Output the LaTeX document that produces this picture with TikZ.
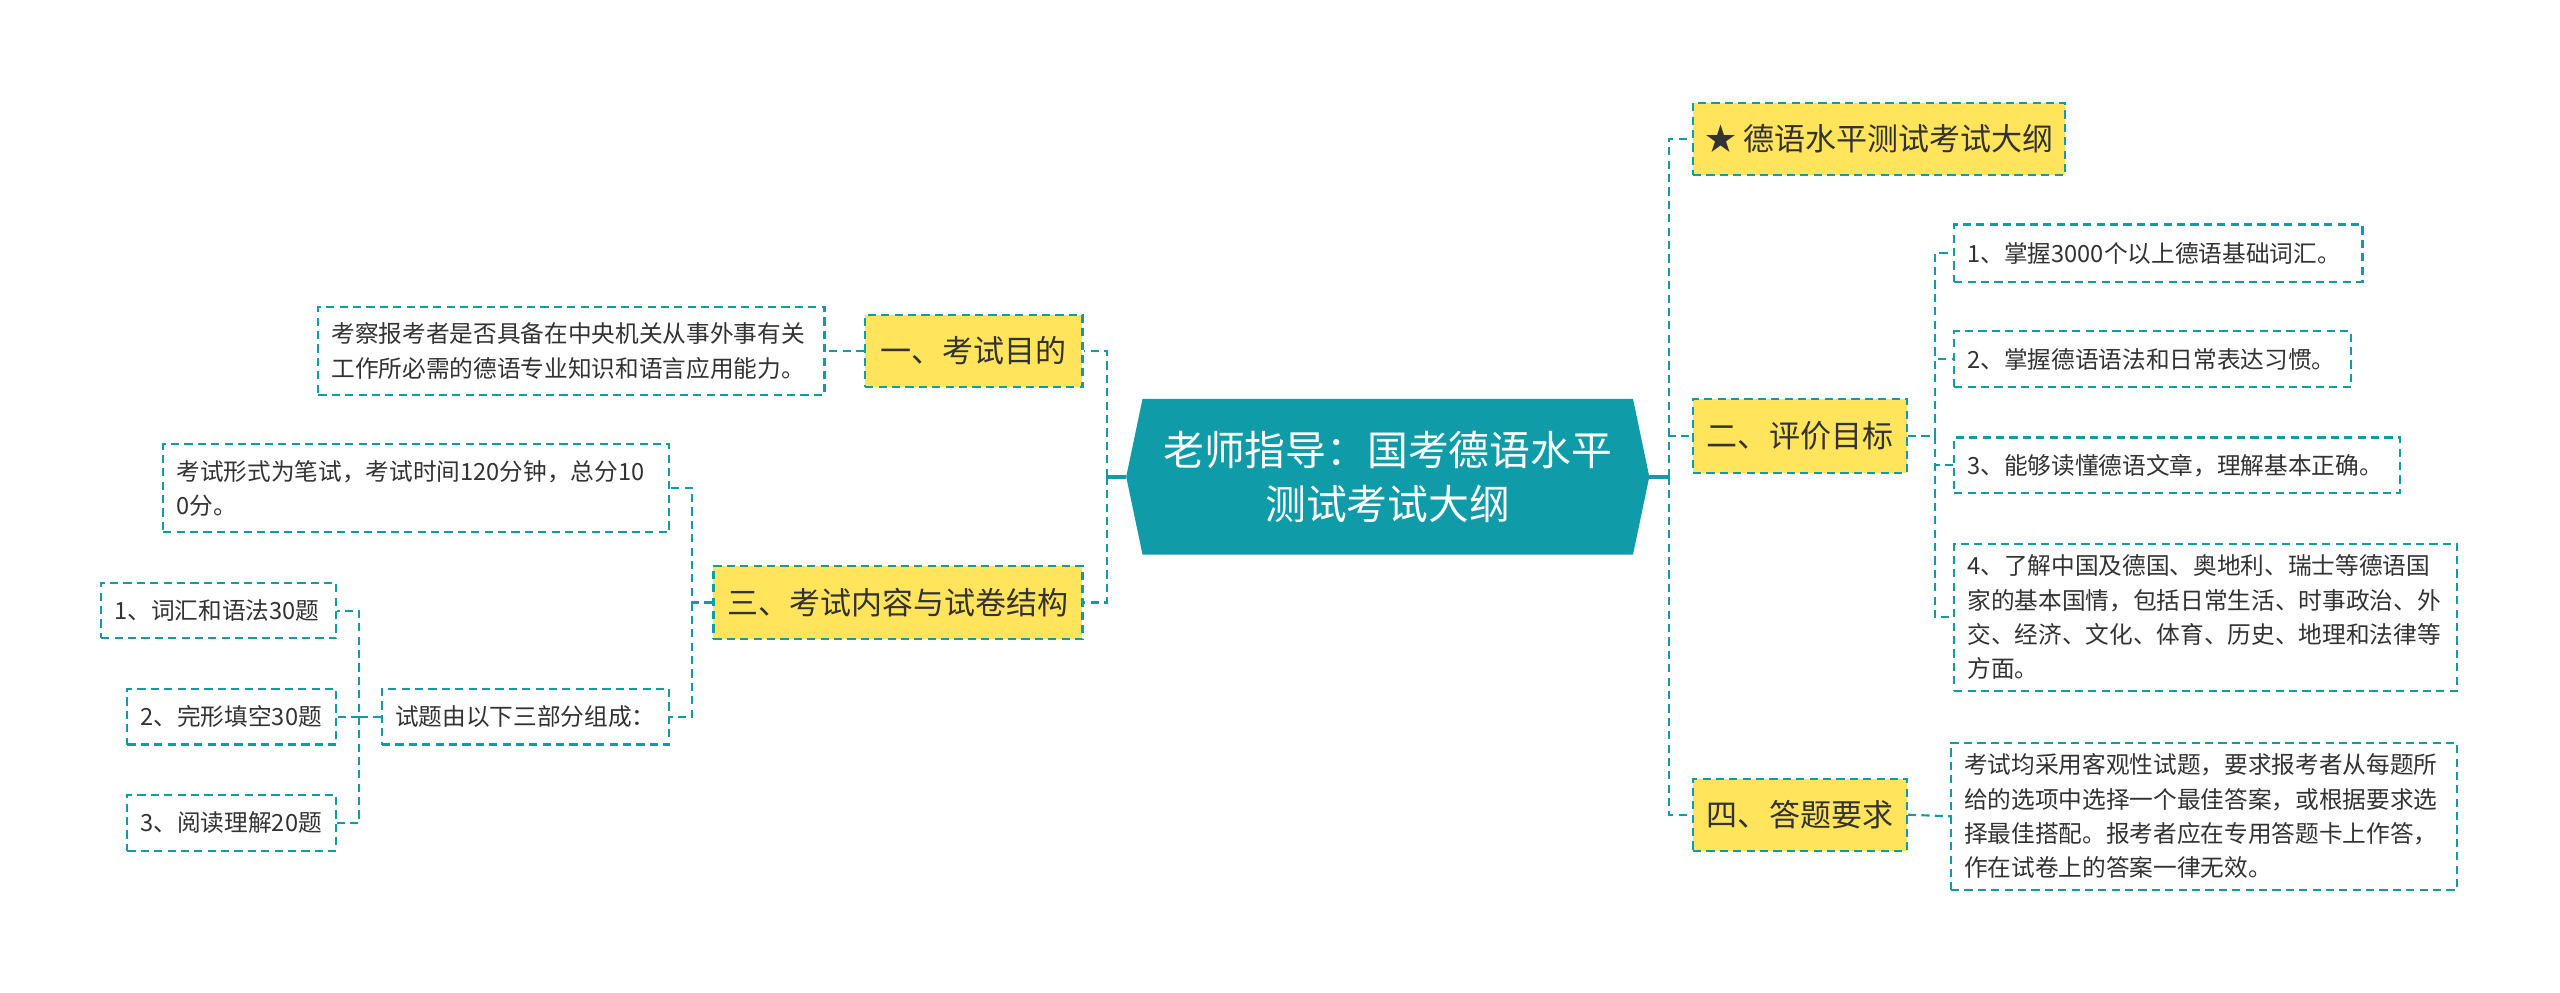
\documentclass[tikz,border=0pt]{standalone}
\usepackage{fontspec}
\newfontfamily\cjk{Noto Sans CJK SC}
\usetikzlibrary{backgrounds}
\definecolor{teal1}{HTML}{0F9BA8}
\definecolor{ylw}{HTML}{FFE45C}
\definecolor{txt}{HTML}{333333}
\begin{document}
\begin{tikzpicture}[x=1pt,y=-1pt,
  every node/.style={font=\cjk},
  dline/.style={draw=teal1, line width=1.3pt, dash pattern=on 5pt off 3.2pt},
  rootline/.style={draw=teal1, line width=2.4pt},
  topic/.style={fill=ylw, dline, text=txt, font=\cjk\fontsize{19}{23}\selectfont, inner sep=0pt, align=center},
  leaf/.style={fill=white, dline, text=txt, font=\cjk\fontsize{14.5}{21}\selectfont, inner xsep=8pt, inner ysep=0pt, align=left},
]
\useasboundingbox (0,0) rectangle (1568,608);
% root
\node[text=white, font=\cjk\fontsize{25}{33}\selectfont, align=center, minimum width=320pt, minimum height=95pt, inner sep=0pt] (root) at (850,292) {老师指导：国考德语水平\\测试考试大纲};
\begin{scope}[on background layer]
\fill[white] (0,0) rectangle (1568,608);
\fill[teal1] (root.west) -- ([xshift=10pt]root.north west) -- ([xshift=-10pt]root.north east) -- (root.east) -- ([xshift=-10pt]root.south east) -- ([xshift=10pt]root.south west) -- cycle;
\end{scope}
% left topics
\node[topic, minimum width=133pt, minimum height=44pt] (n1) at (596.5,215) {一、考试目的};
\node[topic, minimum width=226pt, minimum height=45pt] (n3) at (550,369) {三、考试内容与试卷结构};
\node[leaf, text width=294pt, minimum height=54pt] (a1) at (350,215) {考察报考者是否具备在中央机关从事外事有关\\工作所必需的德语专业知识和语言应用能力。};
\node[leaf, text width=294pt, minimum height=54pt] (b1) at (255,299) {考试形式为笔试，考试时间120分钟，总分10\\0分。};
\node[leaf, text width=160pt, minimum height=34pt] (b2) at (322,439) {试题由以下三部分组成：};
\node[leaf, text width=128pt, minimum height=34pt] (c1) at (134,374) {1、词汇和语法30题};
\node[leaf, text width=112pt, minimum height=34pt] (c2) at (142,439) {2、完形填空30题};
\node[leaf, text width=112pt, minimum height=34pt] (c3) at (142,504) {3、阅读理解20题};
% right topics
\node[topic, minimum width=228pt, minimum height=44pt] (r0) at (1151,85) {★ 德语水平测试考试大纲};
\node[topic, minimum width=131pt, minimum height=45pt] (r2) at (1102.5,267) {二、评价目标};
\node[topic, minimum width=131pt, minimum height=44pt] (r4) at (1102.5,499) {四、答题要求};
\node[leaf, text width=234pt, minimum height=35pt] (d1) at (1322,155) {1、掌握3000个以上德语基础词汇。};
\node[leaf, text width=227pt, minimum height=34pt] (d2) at (1318.5,220) {2、掌握德语语法和日常表达习惯。};
\node[leaf, text width=257pt, minimum height=34pt] (d3) at (1333.5,285) {3、能够读懂德语文章，理解基本正确。};
\node[leaf, text width=292pt, minimum height=90pt] (d4) at (1351,378) {4、了解中国及德国、奥地利、瑞士等德语国\\家的基本国情，包括日常生活、时事政治、外\\交、经济、文化、体育、历史、地理和法律等\\方面。};
\node[leaf, text width=294pt, minimum height=90pt] (e1) at (1350,500) {考试均采用客观性试题，要求报考者从每题所\\给的选项中选择一个最佳答案，或根据要求选\\择最佳搭配。报考者应在专用答题卡上作答，\\作在试卷上的答案一律无效。};
% connectors
\coordinate (jl) at (678,292);
\coordinate (jr) at (1022,292);
\draw[rootline] (root.west) -- (jl);
\draw[rootline] (root.east) -- (jr);
\draw[dline] (jl) |- (n1.east);
\draw[dline] (jl) |- (n3.east);
\draw[dline] (jr) |- (r0.west);
\draw[dline] (jr) |- (r2.west);
\draw[dline] (jr) |- (r4.west);
\draw[dline] (n1.west) -- (a1.east);
\coordinate (j3) at (424,369);
\draw[dline] (n3.west) -- (j3) |- (b1.east);
\draw[dline] (j3) |- (b2.east);
\coordinate (jb) at (220,439);
\draw[dline] (b2.west) -- (jb) |- (c1.east);
\draw[dline] (jb) |- (c3.east);
\draw[dline] (jb) -- (c2.east);
\coordinate (j2) at (1185,267);
\draw[dline] (r2.east) -- (j2) |- (d1.west);
\draw[dline] (j2) |- (d2.west);
\draw[dline] (j2) |- (d3.west);
\draw[dline] (j2) |- (d4.west);
\draw[dline] (r4.east) -- (e1.west);
\end{tikzpicture}
\end{document}
